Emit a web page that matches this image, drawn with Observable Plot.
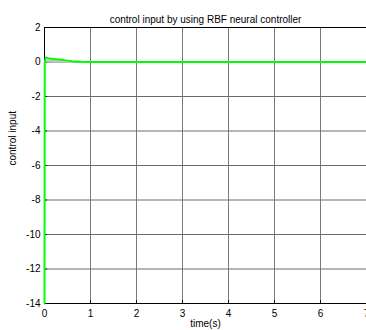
<!DOCTYPE html>
<html>
<head>
<meta charset="utf-8">
<script src="https://cdn.jsdelivr.net/npm/d3@7"></script>
<script src="https://cdn.jsdelivr.net/npm/@observablehq/plot@0.6"></script>
<style>
  html, body { margin: 0; padding: 0; background: #fff; }
</style>
</head>
<body>
<div id="chart"></div>
<script>
// Control input u(t) of the RBF neural controller
const time = [0, 0.005, 0.03, 0.06, 0.1, 0.2, 0.3, 0.4, 0.5, 0.6, 0.7, 0.8, 0.9, 1.0, 2, 3, 4, 5, 6, 7];
const u    = [-14, 0.0, 0.26, 0.24, 0.2, 0.17, 0.14, 0.11, 0.08, 0.05, 0.03, 0.01, 0.0, 0.0, 0, 0, 0, 0, 0, 0];

// faint companion trace just under the main curve
const timeB = [0.01, 0.05, 0.1, 0.2, 0.3, 0.4, 0.5, 0.6];
const uB    = [0.0, 0.1, 0.1, 0.08, 0.06, 0.04, 0.02, 0.0];

const xTicks = [0, 1, 2, 3, 4, 5, 6, 7];
const yTicks = [-14, -12, -10, -8, -6, -4, -2, 0, 2];

const titleText = "control input by using RBF neural controller";
const xLabel = "time(s)";
const yLabel = "control input";

const W = 366, H = 330;
const mL = 44, mR = 0, mT = 27, mB = 27;
const frameW = W - mL - mR, frameH = H - mT - mB;

const main = time.map((t, i) => ({t, u: u[i]}));
const comp = timeB.map((t, i) => ({t, u: uB[i]}));

const chart = Plot.plot({
  width: W,
  height: H,
  marginLeft: mL,
  marginRight: mR,
  marginTop: mT,
  marginBottom: mB,
  style: {fontFamily: "'Liberation Sans', Arial, sans-serif", fontSize: "10px", background: "#fff", color: "#000"},
  x: {domain: [0, 7]},
  y: {domain: [-14, 2]},
  marks: [
    Plot.gridX(xTicks, {stroke: "#7a7a7a", strokeOpacity: 1}),
    Plot.gridY(yTicks, {stroke: "#6a6a6a", strokeOpacity: 1}),
    // inward tick marks
    Plot.tickX(xTicks, {x: d => d, stroke: "#000", insetTop: frameH - 3}),
    Plot.tickY(yTicks, {y: d => d, stroke: "#000", insetRight: frameW - 3}),
    Plot.axisX(xTicks, {tickSize: 0, tickPadding: 6, label: null, fontSize: 10, tickFormat: d => String(d)}),
    Plot.axisY(yTicks, {tickSize: 0, tickPadding: 4, label: null, fontSize: 10, tickFormat: d => String(d)}),
    Plot.ruleY([2], {stroke: "#000"}),
    Plot.ruleY([-14], {stroke: "#000"}),
    Plot.ruleX([0], {stroke: "#000"}),
    Plot.line(comp, {x: "t", y: "u", stroke: "#c8c8c8", strokeWidth: 2}),
    Plot.line(main, {x: "t", y: "u", stroke: "#00ff00", strokeWidth: 2}),
    Plot.text([titleText], {frameAnchor: "top", dy: -12, fontSize: 10}),
    Plot.text([xLabel], {frameAnchor: "bottom", dy: 23, fontSize: 10}),
    Plot.text([yLabel], {frameAnchor: "left", dx: -32, rotate: -90, fontSize: 10})
  ]
});

document.getElementById("chart").appendChild(chart);
</script>
</body>
</html>
